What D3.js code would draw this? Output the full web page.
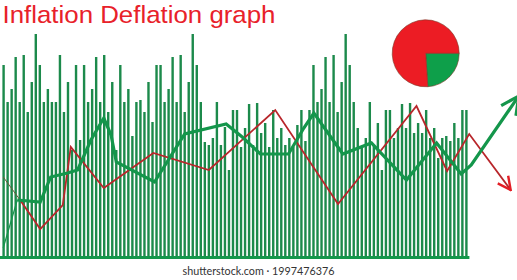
<!DOCTYPE html>
<html>
<head>
<meta charset="utf-8">
<script src="https://cdn.jsdelivr.net/npm/d3@7/dist/d3.min.js"></script>
<style>
  body { margin: 0; background: #fff; }
  svg { display: block; }
</style>
</head>
<body>
<div id="chart"></div>
<script>
// bar heights (px above the base line), one per bar, read left to right
let barValues = [
  192, 155, 168, 200, 155, 202, 145, 175, 223, 192, 155, 168, 155, 155, 202, 145, 175, 107, 192, 117,
  192, 155, 168, 200, 155, 202, 145, 175, 107, 192, 155, 168, 121, 155, 157, 145, 175, 135, 192,
  192, 155, 168, 200, 155, 202, 145, 175, 223, 192, 155, 115, 112, 119, 155, 112, 130, 87, 147, 147,
  110, 129, 153, 112, 154, 124, 134, 110, 147, 119, 129, 112, 119, 110, 132, 147, 116, 147,
  192, 155, 168, 200, 155, 202, 145, 175, 223, 192, 155, 129, 110, 119, 155, 112, 134, 87, 147, 147,
  119, 129, 153, 129, 154, 124, 134, 124, 147, 119, 129, 99, 119, 121, 116, 134, 119, 147, 147
];

// line points: x in bar index, y in same units as the bars
let inflationX = [-0.1, 3.4, 9.1, 11.7, 15.9, 18.4, 21.7, 24.9, 26.7, 28, 37.5, 45, 55.3, 59.3, 63.8, 70.8,
                  74.6, 77.1, 84.3, 91.4, 100.1, 107.6, 113.7, 116.2, 128];
let inflationY = [9, 57, 55, 80, 84, 87, 117, 139, 122, 95, 75, 123, 133, 120, 103, 103,
                  129, 144, 103, 114, 77, 114, 83, 92, 161];

let deflationX = [-0.1, 4.1, 9.1, 14.7, 16.7, 24.9, 37.2, 51, 67.5, 83.1, 102.6, 110.2, 115.7, 126];
let deflationY = [80, 57, 28, 52, 110, 69, 104, 87, 147, 53, 151, 86, 123, 67];

// pie shares
let pieLabels = ["green", "red"];
let pieValues = [24, 76];

let title = "Inflation Deflation graph";
let credit = "shutterstock.com \u00b7 1997476376";

let width = 517;
let height = 280;
let base_y = 257;

let green = "#14964b";
let barGreen = "#1c8a4b";
let red = "#e31e26";
let darkRed = "#b8262b";

let svg = d3.select("#chart")
            .append("svg")
            .attr("width", width)
            .attr("height", height);

let x = d3.scaleLinear()
          .domain([0, barValues.length - 1])
          .range([3.6, 466.4]);

let y = d3.scaleLinear()
          .domain([0, 240])
          .range([base_y, base_y - 240]);

// bars
svg.append("g")
   .selectAll("rect")
   .data(barValues)
   .join("rect")
   .attr("x", (d, i) => x(i) - 1.2)
   .attr("y", d => y(d))
   .attr("width", 2.4)
   .attr("height", d => y(0) - y(d))
   .attr("fill", barGreen);

// base line
svg.append("line")
   .attr("x1", 0)
   .attr("x2", x(barValues.length - 1) + 3)
   .attr("y1", y(0) + 0.5)
   .attr("y2", y(0) + 0.5)
   .style("stroke", green)
   .style("stroke-width", 3);

// arrow markers
let defs = svg.append("defs");
defs.append("marker")
    .attr("id", "arrow-green")
    .attr("viewBox", "0 0 10 10")
    .attr("refX", 9)
    .attr("refY", 5)
    .attr("markerWidth", 7)
    .attr("markerHeight", 7)
    .attr("markerUnits", "strokeWidth")
    .attr("orient", "auto")
    .append("path")
    .attr("d", "M 1 1 L 9 5 L 1 9")
    .style("fill", "none")
    .style("stroke", green)
    .style("stroke-width", 1.4);

defs.append("marker")
    .attr("id", "arrow-red")
    .attr("viewBox", "0 0 10 10")
    .attr("refX", 9)
    .attr("refY", 5)
    .attr("markerWidth", 9)
    .attr("markerHeight", 9)
    .attr("markerUnits", "strokeWidth")
    .attr("orient", "auto")
    .append("path")
    .attr("d", "M 1 1 L 9 5 L 1 9")
    .style("fill", "none")
    .style("stroke", red)
    .style("stroke-width", 1.5);

let line = d3.line()
             .x(d => x(d[0]))
             .y(d => y(d[1]));

let inflation = d3.zip(inflationX, inflationY);
let deflation = d3.zip(deflationX, deflationY);

// thin lead-in segments
svg.append("path")
   .attr("d", line(deflation.slice(0, 2)))
   .style("fill", "none")
   .style("stroke", "#6b5a3a")
   .style("stroke-width", 1);

svg.append("path")
   .attr("d", line(inflation.slice(0, 2)))
   .style("fill", "none")
   .style("stroke", green)
   .style("stroke-width", 1.2);

svg.append("path")
   .attr("d", line(deflation.slice(1)))
   .attr("marker-end", "url(#arrow-red)")
   .style("fill", "none")
   .style("stroke", darkRed)
   .style("stroke-width", 1.8)
   .style("stroke-linejoin", "miter");

svg.append("path")
   .attr("d", line(inflation.slice(1)))
   .attr("marker-end", "url(#arrow-green)")
   .style("fill", "none")
   .style("stroke", green)
   .style("stroke-width", 3.2)
   .style("stroke-linejoin", "miter");

// pie
let pie = d3.pie()
            .sort(null)
            .startAngle(Math.PI / 2)
            .endAngle(Math.PI / 2 + 2 * Math.PI);

let arc = d3.arc()
            .innerRadius(0)
            .outerRadius(33.5);

let pieColor = d3.scaleOrdinal()
                 .domain(pieLabels)
                 .range(["#0e9f4a", "#ec1c24"]);

svg.append("g")
   .attr("transform", "translate(425.7,53.3)")
   .selectAll("path")
   .data(pie(pieValues))
   .join("path")
   .attr("d", arc)
   .attr("fill", (d, i) => pieColor(pieLabels[i]))
   .style("stroke", "#7a3a2a")
   .style("stroke-width", 0.6);

// title
svg.append("text")
   .attr("x", 2.5)
   .attr("y", 22.6)
   .attr("textLength", 273)
   .attr("lengthAdjust", "spacingAndGlyphs")
   .style("font-family", "'Liberation Sans', sans-serif")
   .style("font-size", "24.8px")
   .style("fill", "#e8212a")
   .text(title);

// credit line
svg.append("text")
   .attr("x", 182.5)
   .attr("y", 275)
   .attr("textLength", 152)
   .attr("lengthAdjust", "spacingAndGlyphs")
   .style("font-family", "Lato, sans-serif")
   .style("font-size", "12px")
   .style("fill", "#333")
   .text(credit);
</script>
</body>
</html>
